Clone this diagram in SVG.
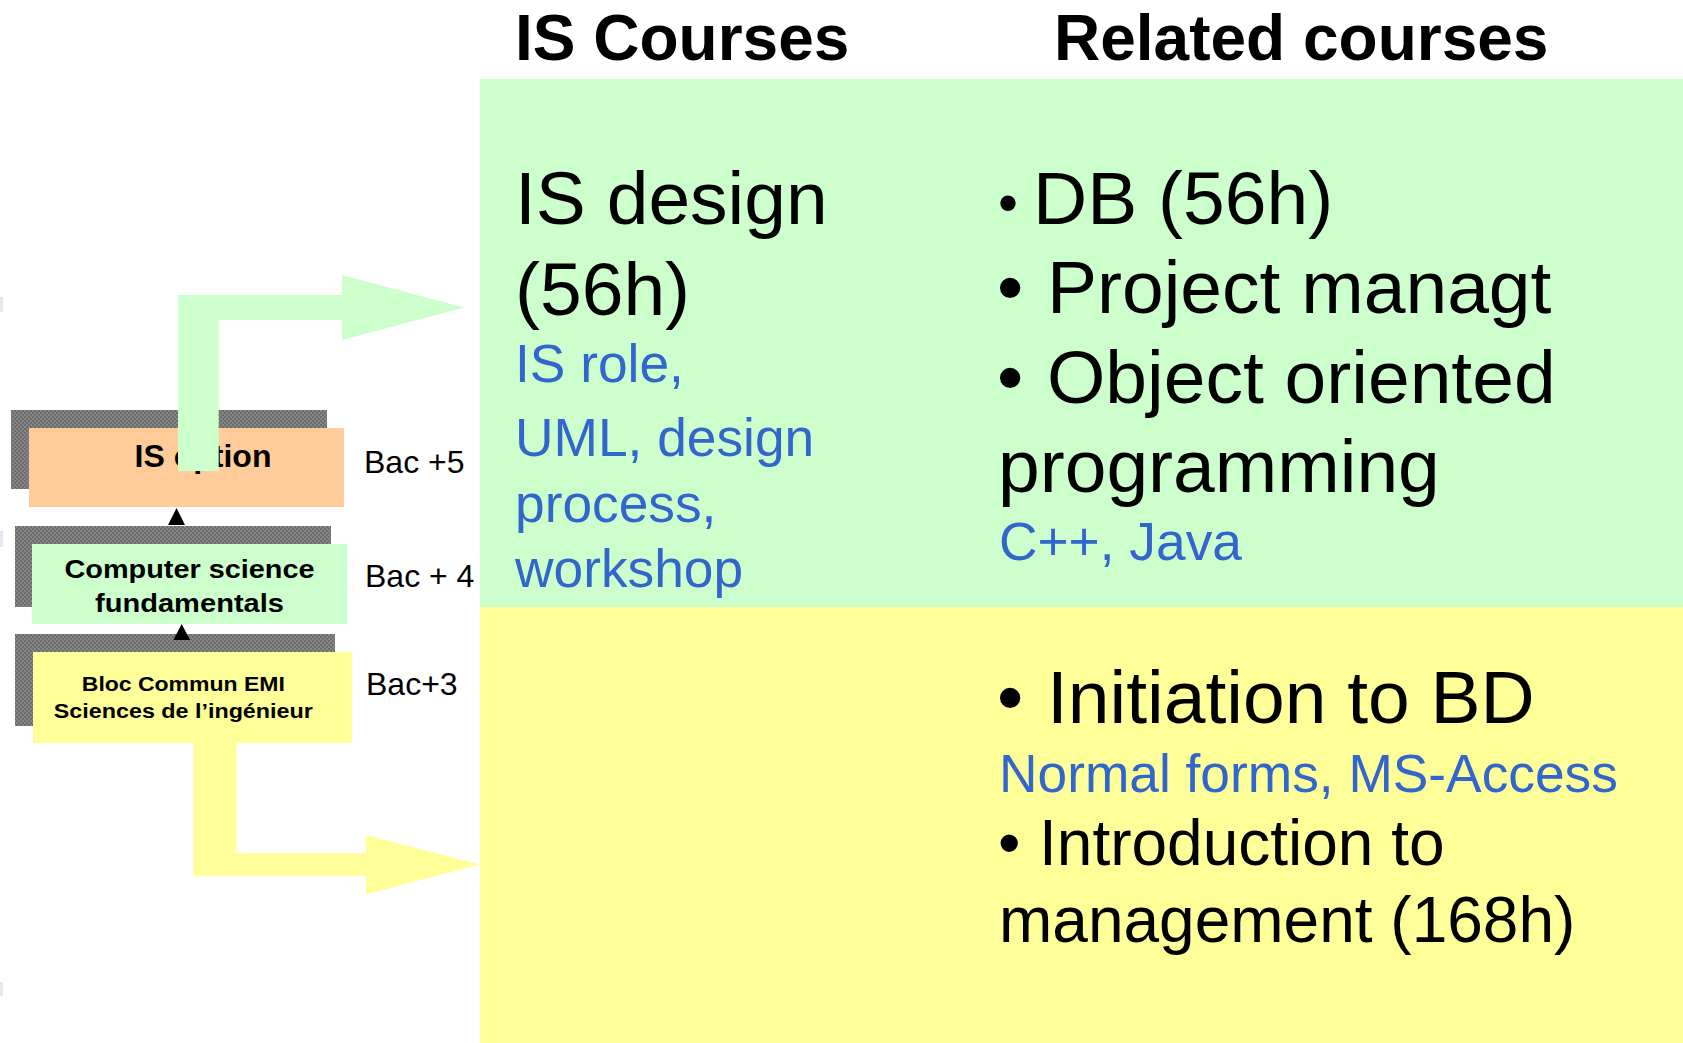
<svg xmlns="http://www.w3.org/2000/svg" width="1683" height="1043" viewBox="0 0 1683 1043">
<style>
text{font-family:"Liberation Sans",Arial,Helvetica,sans-serif;fill:#000}
.hdr{font-size:64px;font-weight:bold}
.big{font-size:75px}
.mid{font-size:64px}
.blue{font-size:53.3px;fill:#3366CC}
.bt{font-weight:bold}
.bac{font-size:32px}
.shadow{fill:url(#chk)}
</style>
<defs>
<pattern id="chk" width="4" height="4" patternUnits="userSpaceOnUse">
<rect width="4" height="4" fill="#868686"/>
<rect width="2" height="2" fill="#6c6c6c"/>
<rect x="2" y="2" width="2" height="2" fill="#6c6c6c"/>
</pattern>
</defs>
<rect width="1683" height="1043" fill="#fff"/>
<rect x="0" y="297" width="3" height="15" fill="#e6e6f2"/>
<rect x="0" y="531" width="3" height="16" fill="#e6e6f2"/>
<rect x="0" y="982" width="3" height="14" fill="#e6e6f2"/>

<g id="headers">
<text class="hdr" x="515" y="60">IS Courses</text>
<text class="hdr" x="1054" y="60">Related courses</text>
</g>

<g id="panel-is">
<rect x="480" y="79" width="1203" height="528" fill="#CCFFCC"/>
<text class="big" x="515" y="224">IS design</text>
<text class="big" x="515" y="315">(56h)</text>
<text class="blue" x="515" y="382">IS role,</text>
<text class="blue" x="515" y="456">UML, design</text>
<text class="blue" x="515" y="522">process,</text>
<text class="blue" x="515" y="587">workshop</text>
<text x="998" y="222" style="font-size:57px">•</text>
<text class="big" x="1033" y="224">DB (56h)</text>
<text class="big" x="997" y="313">•</text>
<text class="big" x="1047" y="313">Project managt</text>
<text class="big" x="997" y="403">•</text>
<text class="big" x="1047" y="403">Object oriented</text>
<text class="big" x="998" y="492">programming</text>
<text class="blue" x="999" y="560">C++, Java</text>
</g>

<g id="panel-related">
<rect x="480" y="607" width="1203" height="436" fill="#FFFF99"/>
<text class="big" x="997" y="723">•</text>
<text class="big" x="1047" y="723">Initiation to BD</text>
<text class="blue" x="999" y="792">Normal forms, MS-Access</text>
<text class="mid" x="998" y="865">•</text>
<text class="mid" x="1039" y="865">Introduction to</text>
<text class="mid" x="999" y="942">management (168h)</text>
</g>

<g id="node-is-option">
<rect class="shadow" x="11" y="410" width="316" height="79"/>
<rect x="29" y="428" width="315" height="79" fill="#FFCC99"/>
<text class="bt" x="203" y="467" text-anchor="middle" style="font-size:32px">IS option</text>
<text class="bac" x="364" y="473">Bac +5</text>
</g>

<g id="node-cs">
<rect class="shadow" x="15" y="526" width="316" height="81"/>
<rect x="32" y="544" width="315" height="80" fill="#CCFFCC"/>
<text class="bt" x="189.5" y="578" text-anchor="middle" style="font-size:26px" textLength="250" lengthAdjust="spacingAndGlyphs">Computer science</text>
<text class="bt" x="189.5" y="612" text-anchor="middle" style="font-size:26px" textLength="189" lengthAdjust="spacingAndGlyphs">fundamentals</text>
<text class="bac" x="365" y="587">Bac + 4</text>
</g>

<g id="node-bloc">
<rect class="shadow" x="15" y="634" width="320" height="92"/>
<rect x="33" y="652" width="319" height="91" fill="#FFFF99"/>
<text class="bt" x="183.3" y="691" text-anchor="middle" style="font-size:20px" textLength="203" lengthAdjust="spacingAndGlyphs">Bloc Commun EMI</text>
<text class="bt" x="183.3" y="718" text-anchor="middle" style="font-size:20px" textLength="259" lengthAdjust="spacingAndGlyphs">Sciences de l’ingénieur</text>
<text class="bac" x="366" y="695">Bac+3</text>
</g>

<g id="connectors">
<polygon points="168,525 185,525 176.5,508" fill="#000"/>
<polygon points="173.3,640 190,640 181.7,624" fill="#000"/>
<polygon points="178,471 178,295 342,295 342,275 464,307.5 342,340 342,320 218.7,320 218.7,471" fill="#CCFFCC"/>
<polygon points="193.3,742 236.7,742 236.7,853.3 366,853.3 366,835 480,864.5 366,894.3 366,876 193.3,876" fill="#FFFF99"/>
</g>
</svg>
